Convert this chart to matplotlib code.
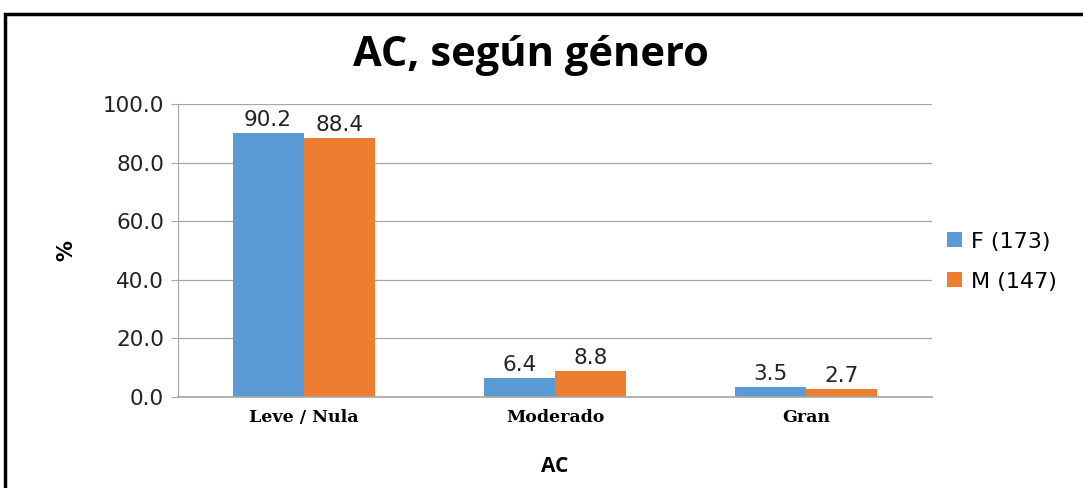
import matplotlib
matplotlib.use("Agg")
import matplotlib.pyplot as plt
import numpy as np
from matplotlib.patches import Rectangle

categories = ["Leve / Nula", "Moderado", "Gran"]
series_names = ["F (173)", "M (147)"]
values_f = [90.2, 6.4, 3.5]
values_m = [88.4, 8.8, 2.7]
colors = ["#5B9BD5", "#ED7D31"]
yticks = [0, 20, 40, 60, 80, 100]

fig = plt.figure(figsize=(10.83, 4.88), dpi=100)
fig.patch.set_facecolor("white")

# outer frame of the chart area
fig.add_artist(Rectangle((5 / 1083, -0.1), 1.1, (488 - 14) / 488 + 0.1,
                         transform=fig.transFigure, fill=False,
                         edgecolor="black", linewidth=2.5))

ax = fig.add_axes([178 / 1083, 1 - 397 / 488, (932 - 178) / 1083, (397 - 104) / 488])

x = np.arange(len(categories))
w = 0.283
bars_f = ax.bar(x - w / 2, values_f, w, color=colors[0], label=series_names[0])
bars_m = ax.bar(x + w / 2, values_m, w, color=colors[1], label=series_names[1])

for bars, vals in ((bars_f, values_f), (bars_m, values_m)):
    for b, v in zip(bars, vals):
        ax.text(b.get_x() + b.get_width() / 2, v + 1.0, f"{v:.1f}",
                ha="center", va="bottom", fontsize=15.5, color="#222222",
                family="DejaVu Sans")

ax.set_xlim(-0.5, len(categories) - 0.5)
ax.set_ylim(0, 100)
ax.set_yticks(yticks)
ax.set_yticklabels([f"{t:.1f}" for t in yticks], fontsize=15.5, color="#222222")
ax.set_xticks(x)
ax.set_xticklabels(categories, fontsize=12.5, fontweight="bold", family="DejaVu Serif")
ax.tick_params(axis="x", length=0, pad=9)
ax.tick_params(axis="y", length=5, color="#a6a6a6", pad=5)

ax.yaxis.grid(True, color="#a6a6a6", linewidth=0.9)
ax.set_axisbelow(True)
for s in ("top", "right"):
    ax.spines[s].set_visible(False)
ax.spines["left"].set_color("#a6a6a6")
ax.spines["bottom"].set_color("#a6a6a6")
ax.spines["bottom"].set_linewidth(1.2)

ax.set_ylabel("%", fontsize=15, fontweight="bold")
ax.yaxis.set_label_coords(-0.135, 0.5)
ax.set_xlabel("AC", fontsize=15, fontweight="bold", family="Open Sans")
ax.xaxis.set_label_coords(0.5, -0.2)

fig.text(0.49, 1 - 55 / 488, "AC, según género", ha="center", va="center",
         fontsize=30, fontweight="bold", family="Open Sans")

leg = ax.legend(loc="center left", bbox_to_anchor=(0.994, 0.462), frameon=False,
                fontsize=16, handlelength=0.65, handleheight=0.65,
                handletextpad=0.4, labelspacing=0.9)

fig.savefig("out.png", dpi=100, facecolor="white")
